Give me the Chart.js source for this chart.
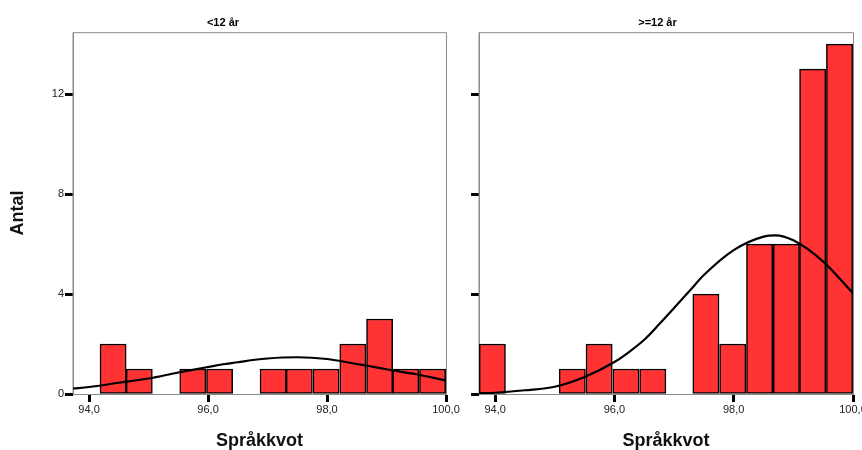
<!DOCTYPE html>
<html>
<head>
<meta charset="utf-8">
<script src="https://cdn.jsdelivr.net/npm/chart.js@4.4.1/dist/chart.umd.min.js"></script>
<style>
  body { margin: 0; background: #fff; }
  #wrap { position: relative; width: 862px; height: 450px; }
  #leftBox { position: absolute; left: 0; top: 0; }
  #rightBox { position: absolute; left: 462px; top: 0; }
</style>
</head>
<body>
<div id="wrap">
  <div id="leftBox"><canvas id="chartUnder12" width="462" height="450"></canvas></div>
  <div id="rightBox"><canvas id="chartOver12" width="400" height="450"></canvas></div>
</div>
<script>
// histogram bins (lower edge of each bin) and width
const binStart = [93.73, 94.18, 94.62, 95.07, 95.52, 95.97, 96.42, 96.87, 97.31, 97.76, 98.21, 98.66, 99.10, 99.55];
const binWidth = 0.448;

const countsUnder12 = [0, 2, 1, 0, 1, 1, 0, 1, 1, 1, 2, 3, 1, 1];
const countsOver12  = [2, 0, 0, 1, 2, 1, 1, 0, 4, 2, 6, 6, 13, 14];

// normal curve
const curveX       = [93.73, 94.0, 94.5, 95.0, 95.5, 96.0, 96.25, 96.5, 96.75, 97.0, 97.25, 97.5, 98.0, 98.5, 98.7, 99.0, 99.5, 100.0];
const curveUnder12 = [0.22, 0.28, 0.45, 0.62, 0.86, 1.08, 1.19, 1.27, 1.36, 1.42, 1.46, 1.47, 1.40, 1.20, 1.12, 0.99, 0.79, 0.54];
const curveOver12  = [0.03, 0.05, 0.15, 0.29, 0.68, 1.28, 1.69, 2.17, 2.79, 3.44, 4.10, 4.76, 5.76, 6.30, 6.35, 6.15, 5.30, 4.03];

const xTicks = [94, 96, 98, 100];
const yTicks = [0, 4, 8, 12];

Chart.defaults.font.family = "'Liberation Sans', Arial, sans-serif";
Chart.defaults.color = '#222';

const frame = {
    id: 'frame',
    beforeDatasetsDraw(chart) {
        const a = chart.chartArea;
        const ctx = chart.ctx;
        ctx.save();
        ctx.strokeStyle = '#8a8a8a';
        ctx.lineWidth = 1;
        ctx.beginPath();
        ctx.moveTo(a.left, a.bottom);
        ctx.lineTo(a.left, a.top + 0.5);
        ctx.lineTo(a.right + 0.5, a.top + 0.5);
        ctx.lineTo(a.right + 0.5, a.bottom);
        ctx.stroke();
        ctx.restore();
    }
};

function makePanel(id, title, counts, curve, showY, yWidth, rightPad) {
    return new Chart(document.getElementById(id), {
        data: {
            datasets: [{
                type: 'line',
                data: curveX.map((x, i) => ({ x: x, y: curve[i] })),
                borderColor: '#000',
                borderWidth: 2.2,
                pointRadius: 0,
                cubicInterpolationMode: 'monotone',
                order: 0
            }, {
                type: 'bar',
                data: binStart.map((s, i) => ({ x: s + binWidth / 2, y: counts[i] || null })),
                backgroundColor: '#ff3333',
                borderColor: '#000',
                borderWidth: 1.5,
                borderSkipped: false,
                barPercentage: 1,
                categoryPercentage: 1,
                order: 1
            }]
        },
        options: {
            responsive: false,
            animation: false,
            layout: { padding: { left: 0, right: rightPad, top: 0, bottom: 0 } },
            plugins: {
                legend: { display: false },
                tooltip: { enabled: false },
                title: {
                    display: true,
                    text: title,
                    color: '#000',
                    font: { size: 11, weight: 'bold' },
                    padding: { top: 16, bottom: 3 }
                }
            },
            scales: {
                x: {
                    type: 'linear',
                    min: 93.73,
                    max: 100.0,
                    offset: false,
                    afterBuildTicks: s => { s.ticks = xTicks.map(v => ({ value: v })); },
                    afterFit: s => { s.height = 56; s.paddingLeft = 0; s.paddingRight = 0; },
                    ticks: {
                        callback: v => v.toFixed(1).replace('.', ','),
                        font: { size: 11 },
                        color: '#222',
                        padding: 1,
                        maxRotation: 0,
                        autoSkip: false
                    },
                    grid: { offset: false, drawOnChartArea: false, drawTicks: true, tickLength: 8, tickWidth: 3, tickColor: '#000' },
                    border: { color: '#8a8a8a', width: 1 },
                    title: {
                        display: true,
                        text: 'Språkkvot',
                        color: '#111',
                        font: { size: 18, weight: 'bold', lineHeight: 1 },
                        padding: { top: 0, bottom: 0 }
                    }
                },
                y: {
                    type: 'linear',
                    min: 0,
                    max: 14.48,
                    afterBuildTicks: s => { s.ticks = yTicks.map(v => ({ value: v })); },
                    afterFit: s => { s.width = yWidth; s.paddingTop = 0; s.paddingBottom = 0; },
                    ticks: {
                        display: showY,
                        font: { size: 11 },
                        color: '#222',
                        padding: 1
                    },
                    grid: { drawOnChartArea: false, drawTicks: true, tickLength: 8, tickWidth: 3, tickColor: '#000' },
                    border: { color: '#8a8a8a', width: 1 },
                    title: {
                        display: showY,
                        text: 'Antal',
                        color: '#111',
                        font: { size: 18, weight: 'bold', lineHeight: 1 },
                        padding: { top: 9, bottom: 0 }
                    }
                }
            }
        },
        plugins: [frame]
    });
}

makePanel('chartUnder12', '<12 år', countsUnder12, curveUnder12, true, 73, 16);
makePanel('chartOver12', '>=12 år', countsOver12, curveOver12, false, 17, 9);
</script>
</body>
</html>
